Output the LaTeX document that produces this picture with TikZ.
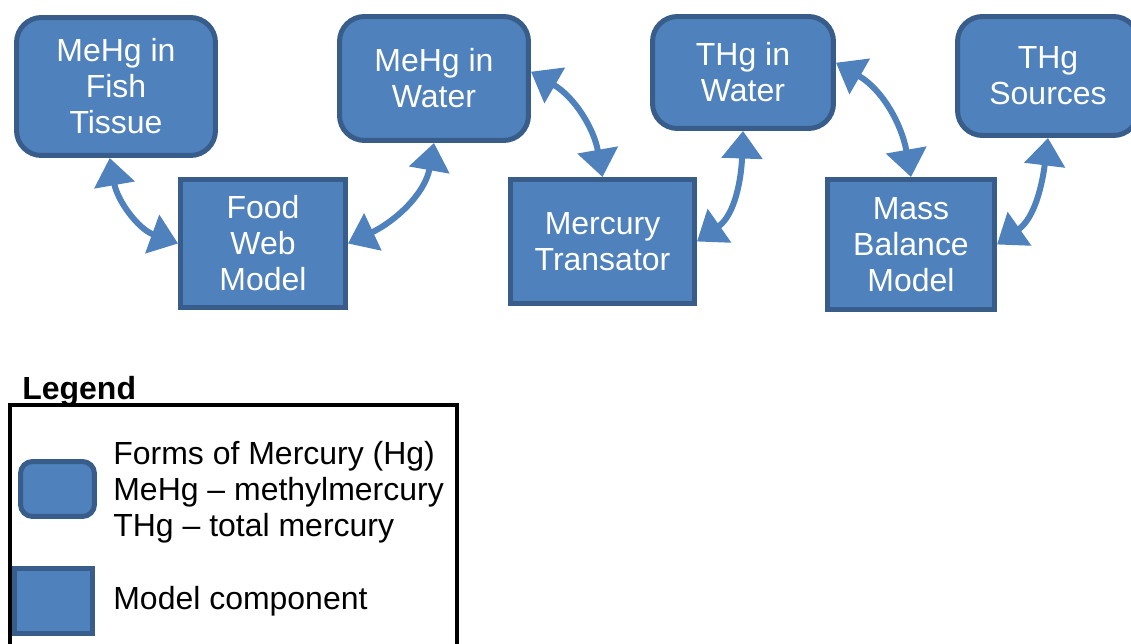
\documentclass[tikz,border=0pt]{standalone}
\usepackage{fontspec}
\setmainfont{Liberation Sans}
\usetikzlibrary{arrows.meta}

\definecolor{hgfill}{HTML}{4F81BD}
\definecolor{hgline}{HTML}{385D8A}

\begin{document}
\begin{tikzpicture}[x=0.02cm, y=-0.02cm,
  every node/.style={font=\fontsize{18.2}{20.5}\selectfont},
  form/.style={draw=hgline, fill=hgfill, line width=0.1cm, rounded corners=0.5cm, text=white, align=center, inner sep=0pt},
  model/.style={draw=hgline, fill=hgfill, line width=0.1cm, text=white, align=center, inner sep=0pt},
  link/.style={hgfill, line width=0.12cm, {Triangle[length=0.55cm,width=0.8cm]}-{Triangle[length=0.55cm,width=0.8cm]}}]
\useasboundingbox (0,0) rectangle (1131,644);
% forms of mercury
\node[form, minimum width=3.98cm, minimum height=2.76cm] (fish) at (116,86.5) {MeHg in\\Fish\\Tissue};
\node[form, minimum width=3.78cm, minimum height=2.48cm] (mewater) at (434,78.5) {MeHg in\\Water};
\node[form, minimum width=3.62cm, minimum height=2.24cm] (thgwater) at (743,72.5) {THg in\\Water};
\node[form, minimum width=3.62cm, minimum height=2.38cm] (sources) at (1048,76) {THg\\Sources};
% model components
\node[model, minimum width=3.3cm, minimum height=2.56cm] (foodweb) at (263,243.5) {Food\\Web\\Model};
\node[model, minimum width=3.68cm, minimum height=2.48cm] (transator) at (602.5,241.5) {Mercury\\Transator};
\node[model, minimum width=3.34cm, minimum height=2.6cm] (massbal) at (911,244.5) {Mass\\Balance\\Model};
% links
\foreach \s/\e/\o/\i in {fish.265/foodweb.west/-80/160, mewater.south/foodweb.east/-100/25,
  mewater.4/transator.north/-30/100, thgwater.south/transator.east/-92/35,
  thgwater.6/massbal.north/-30/100, sources.south/massbal.east/-97/35} {
 \draw[link] (\s) to[out=\o, in=\i] (\e);
}
% legend
\node[anchor=base west, inner sep=0pt, font=\fontsize{18.2}{20.5}\selectfont\bfseries] (legtitle) at (22,400) {Legend};
\draw[line width=0.08cm] (10,405) rectangle (457,670);
\node[form, rounded corners=0.24cm, minimum width=1.48cm, minimum height=1.1cm] (legform) at (57.5,489) {};
\node[anchor=west, align=left, inner sep=0pt] (legformtxt) at (113,492) {Forms of Mercury (Hg)\\MeHg -- methylmercury\\THg -- total mercury};
\node[model, minimum width=1.56cm, minimum height=1.3cm] (legmodel) at (53.5,601) {};
\node[anchor=west, inner sep=0pt] (legmodeltxt) at (113,601) {Model component};
\end{tikzpicture}
\end{document}
